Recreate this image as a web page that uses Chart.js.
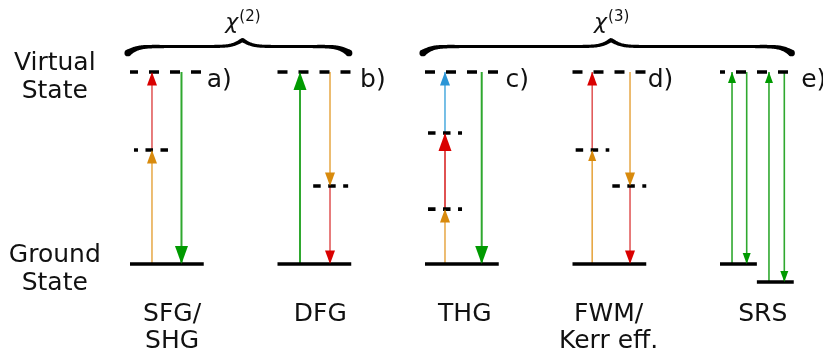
<!DOCTYPE html>
<html>
<head>
<meta charset="utf-8">
<script src="https://cdn.jsdelivr.net/npm/chart.js@4/dist/chart.umd.min.js"></script>
<style>
  html, body { margin: 0; padding: 0; background: #ffffff; }
  #wrap { width: 823px; height: 353px; }
</style>
</head>
<body>
<div id="wrap"><canvas id="diagram" width="823" height="353"></canvas></div>
<script>
// Energy-level diagrams of nonlinear optical processes.
// Energies are given in units of the virtual-state energy (ground = 0, virtual = 1).

const processNames = [['SFG/', 'SHG'], ['DFG'], ['THG'], ['FWM/', 'Kerr eff.'], ['SRS']];
const panelTags = ['a)', 'b)', 'c)', 'd)', 'e)'];
const virtualEnergy = 1;
// ground levels of every process (SRS also ends in a lower vibrational level)
const groundEnergies = [[0], [0], [0], [0], [0, -0.094]];
// intermediate virtual levels
const intermediateEnergies = [[0.594], [0.406], [0.682, 0.286], [0.594, 0.406], []];
// transitions: [from energy, to energy, beam]
const sfgSteps = [[0, 0.594, 'orange'], [0.594, 1, 'red'], [1, 0, 'green']];
const dfgSteps = [[0, 1, 'green'], [1, 0.406, 'orange'], [0.406, 0, 'red']];
const thgSteps = [[0, 0.286, 'orange'], [0.286, 0.682, 'red'], [0.682, 1, 'blue'], [1, 0, 'green']];
const fwmSteps = [[0, 0.594, 'orange'], [0.594, 1, 'red'], [1, 0.406, 'orange'], [0.406, 0, 'red']];
const srsSteps = [[0, 1, 'green'], [1, 0, 'green'], [-0.094, 1, 'green'], [1, -0.094, 'green']];
// susceptibility orders and the processes each brace groups
const chiOrders = ['(2)', '(3)'];
const chiGroups = [[0, 1], [2, 4]];
const stateNames = [['Virtual', 'State'], ['Ground', 'State']];

// ---- layout: panel i occupies x in [2i, 2i + 1] ----
const PANEL_STEP = 2;
const X_MIN = -1.7627, X_MAX = 9.3966;
const Y_MIN = -0.4635, Y_MAX = 1.375;
const groundSpans = [[[0, 1]], [[0, 1]], [[0, 1]], [[0, 1]], [[0, 0.5], [0.5, 1]]];
const intermediateSpans = [[[0.054, 0.515]], [[0.484, 0.958]], [[0.041, 0.502], [0.041, 0.502]],
                           [[0.043, 0.499], [0.54, 1.0]], []];
const virtualDashOffset = [2, 0, 0, 0, 5];
const intermediateDashOffset = [3.5, 0, 0, 0, 0];
const arrowSlots = [[0.298, 0.298, 0.698], [0.305, 0.712, 0.712], [0.271, 0.271, 0.271, 0.769],
                    [0.267, 0.267, 0.78, 0.78], [0.163, 0.362, 0.664, 0.872]];
const headKinds = [['M', 'M', 'L'], ['L', 'M', 'M'], ['M', 'L', 'M', 'L'], ['S', 'M', 'M', 'M'], ['S', 'S', 'S', 'S']];
const headShapes = { L: [13, 18], M: [10, 13.5], S: [8, 11] };
const lineWidths = { L: 2, M: 1.5, S: 1.6 };
const beamLine = { orange: '#e7a744', red: '#e05252', green: '#2fa82f', blue: '#4aaade' };
const beamHead = { orange: '#d88a0c', red: '#d90000', green: '#009a00', blue: '#2a95d6' };
const tagX = [1.04, 1.12, 1.09, 1.02, 1.10];
const nameX = [0.57, 0.58, 0.54, 0.49, 0.58];
const sideLabelX = -1.02;
const braceTipEnergy = 1.099;

const stepsByProcess = [sfgSteps, dfgSteps, thgSteps, fwmSteps, srsSteps];
const datasets = [];

function levelSet(x0, x1, e, dash, offset) {
  return {
    data: [{ x: x0, y: e }, { x: x1, y: e }],
    showLine: true, pointRadius: 0, borderColor: '#000000', borderWidth: 3.6,
    borderDash: dash, borderDashOffset: offset, borderCapStyle: 'butt',
    fill: false, clip: false, order: 0
  };
}

processNames.forEach((_, i) => {
  const left = i * PANEL_STEP;
  datasets.push(levelSet(left, left + 1, virtualEnergy, [10, 11], virtualDashOffset[i]));
  groundEnergies[i].forEach((e, k) => {
    const s = groundSpans[i][k];
    datasets.push(levelSet(left + s[0], left + s[1], e, [], 0));
  });
  intermediateEnergies[i].forEach((e, k) => {
    const s = intermediateSpans[i][k];
    datasets.push(levelSet(left + s[0], left + s[1], e, [7.5, 7.5], intermediateDashOffset[i]));
  });
  stepsByProcess[i].forEach((st, k) => {
    const x = left + arrowSlots[i][k];
    const kind = headKinds[i][k];
    datasets.push({
      data: [{ x: x, y: st[0] }, { x: x, y: st[1] }],
      showLine: true, pointRadius: 0, borderColor: beamLine[st[2]], borderWidth: lineWidths[kind],
      borderCapStyle: 'butt', fill: false, clip: false, order: 1,
      head: headShapes[kind], headColor: beamHead[st[2]]
    });
  });
});

// arrowheads at the end point of each transition
const arrowHeads = {
  id: 'arrowHeads',
  afterDatasetsDraw(chart) {
    const ctx = chart.ctx;
    chart.data.datasets.forEach((ds, k) => {
      if (!ds.head) return;
      const pts = chart.getDatasetMeta(k).data;
      const a = pts[0], b = pts[1];
      const dx = b.x - a.x, dy = b.y - a.y, L = Math.hypot(dx, dy);
      const ux = dx / L, uy = dy / L;
      const w = ds.head[0], len = ds.head[1];
      ctx.save();
      ctx.fillStyle = ds.headColor;
      ctx.beginPath();
      ctx.moveTo(b.x, b.y);
      ctx.lineTo(b.x - ux * len - uy * w / 2, b.y - uy * len + ux * w / 2);
      ctx.lineTo(b.x - ux * len + uy * w / 2, b.y - uy * len - ux * w / 2);
      ctx.closePath();
      ctx.fill();
      ctx.restore();
    });
  }
};

// curly brace with thick curled ends, drawn as a filled band
function drawBrace(ctx, x0, x1, xm, yTip, h, beta) {
  const sig = t => 1 / (1 + Math.exp(-beta * t));
  const N = 400, pts = [];
  for (let k = 0; k <= N; k++) {
    const x = x0 + (x1 - x0) * k / N;
    const s = x <= xm ? sig(x - x0) + sig(x - xm) : sig(x1 - x) + sig(xm - x);
    pts.push([x, yTip - (s - 0.5) * h]);
  }
  const width = x => 3.1 + 3.6 * Math.exp(-(x - x0) / 11) + 3.6 * Math.exp(-(x1 - x) / 11)
                   + 1.2 * Math.exp(-Math.abs(x - xm) / 6);
  const upper = [], lower = [];
  pts.forEach((p, k) => {
    const q0 = pts[Math.max(0, k - 1)], q1 = pts[Math.min(N, k + 1)];
    const tx = q1[0] - q0[0], ty = q1[1] - q0[1], tl = Math.hypot(tx, ty);
    const nx = -ty / tl, ny = tx / tl, hw = width(p[0]) / 2;
    upper.push([p[0] + nx * hw, p[1] + ny * hw]);
    lower.push([p[0] - nx * hw, p[1] - ny * hw]);
  });
  ctx.beginPath();
  ctx.moveTo(upper[0][0], upper[0][1]);
  upper.forEach(p => ctx.lineTo(p[0], p[1]));
  for (let k = lower.length - 1; k >= 0; k--) ctx.lineTo(lower[k][0], lower[k][1]);
  ctx.closePath();
  ctx.fill();
  [pts[0], pts[N]].forEach(p => {
    ctx.beginPath();
    ctx.arc(p[0], p[1], width(p[0]) / 2, 0, Math.PI * 2);
    ctx.fill();
  });
}

const annotations = {
  id: 'annotations',
  afterDraw(chart) {
    const ctx = chart.ctx, xs = chart.scales.x, ys = chart.scales.y;
    const font = '25px "DejaVu Sans"';
    ctx.save();
    ctx.fillStyle = '#111111';
    ctx.font = font;
    ctx.textAlign = 'center';
    ctx.textBaseline = 'alphabetic';

    // state names on the left
    const vy = ys.getPixelForValue(virtualEnergy), gy = ys.getPixelForValue(0);
    const sx = xs.getPixelForValue(sideLabelX);
    ctx.fillText(stateNames[0][0], sx, vy - 2);
    ctx.fillText(stateNames[0][1], sx, vy + 26);
    ctx.fillText(stateNames[1][0], sx, gy - 2);
    ctx.fillText(stateNames[1][1], sx, gy + 26);

    // process names below and panel tags
    processNames.forEach((lines, i) => {
      const left = i * PANEL_STEP;
      const cx = xs.getPixelForValue(left + nameX[i]);
      lines.forEach((t, k) => ctx.fillText(t, cx, gy + 57 + 27 * k));
      ctx.textAlign = 'left';
      ctx.fillText(panelTags[i], xs.getPixelForValue(left + tagX[i]), vy + 15);
      ctx.textAlign = 'center';
    });

    // braces with susceptibility labels
    const tipY = ys.getPixelForValue(braceTipEnergy);
    chiOrders.forEach((ord, j) => {
      const g = chiGroups[j];
      const x0 = xs.getPixelForValue(g[0] * PANEL_STEP - 0.03);
      const x1 = xs.getPixelForValue(g[1] * PANEL_STEP + 1 - 0.03);
      const xm = (x0 + x1) / 2 + 4;
      ctx.fillStyle = '#000000';
      drawBrace(ctx, x0, x1, xm, tipY, 13, 0.19);

      ctx.fillStyle = '#111111';
      const chiFont = 'italic 22px "DejaVu Sans"', supFont = '15px "DejaVu Sans"';
      ctx.font = chiFont;
      const wChi = ctx.measureText('\u03C7').width;
      ctx.font = supFont;
      const wSup = ctx.measureText(ord).width;
      const startX = xm - (wChi + wSup) / 2;
      ctx.textAlign = 'left';
      ctx.font = chiFont;
      ctx.fillText('\u03C7', startX, tipY - 24);
      ctx.font = supFont;
      ctx.fillText(ord, startX + wChi + 1, tipY - 32);
      ctx.textAlign = 'center';
      ctx.font = font;
    });
    ctx.restore();
  }
};

new Chart(document.getElementById('diagram'), {
  type: 'scatter',
  data: { datasets: datasets },
  options: {
    responsive: false,
    animation: false,
    events: [],
    layout: { padding: 0 },
    scales: {
      x: { type: 'linear', min: X_MIN, max: X_MAX, display: false },
      y: { type: 'linear', min: Y_MIN, max: Y_MAX, display: false }
    },
    plugins: { legend: { display: false }, tooltip: { enabled: false } }
  },
  plugins: [arrowHeads, annotations]
});
</script>
</body>
</html>
